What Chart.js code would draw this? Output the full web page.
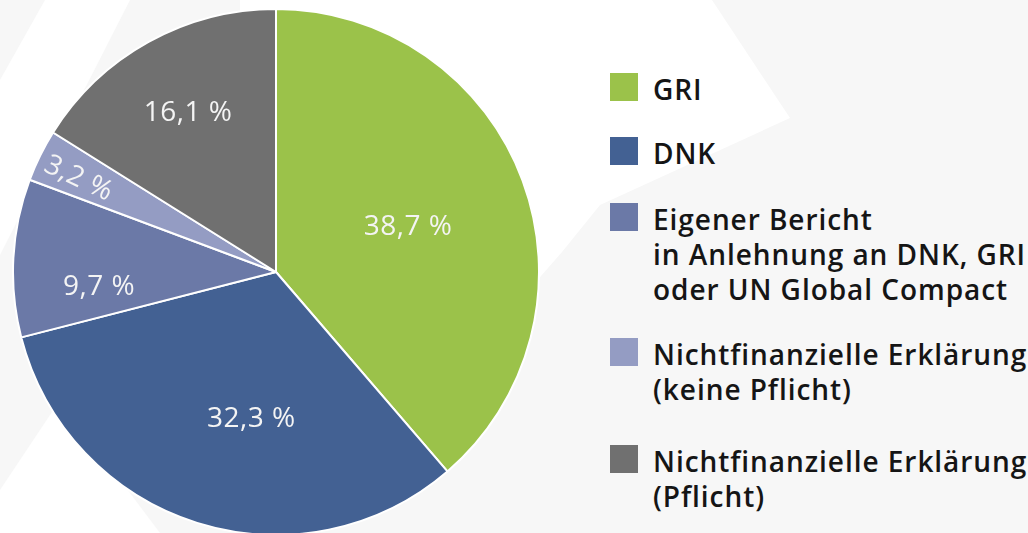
<!DOCTYPE html>
<html>
<head>
<meta charset="utf-8">
<script src="https://cdn.jsdelivr.net/npm/chart.js@4.4.0/dist/chart.umd.min.js"></script>
<style>
  html, body { margin: 0; padding: 0; width: 1028px; height: 533px; overflow: hidden; background: #f7f7f7; font-family: "Open Sans", sans-serif; }
  #bg { position: absolute; left: 0; top: 0; }
  #wrap { position: absolute; left: 12px; top: 8px; width: 528px; height: 528px; }
  #legend { position: absolute; left: 610px; top: 72px; margin: 0; padding: 0; list-style: none; }
  #legend li { display: flex; align-items: flex-start; margin-bottom: 30px; }
  #legend li:nth-child(1) { margin-bottom: 29px; }
  #legend li:nth-child(2) { margin-bottom: 31px; }
  #legend li:nth-child(3) { margin-bottom: 30px; }
  #legend li:nth-child(4) { margin-bottom: 37px; }
  #legend .sw { width: 28px; height: 28px; margin-top: 1px; flex: none; }
  #legend .tx { margin-left: 15px; font-size: 28px; font-weight: 600; letter-spacing: 0.95px; line-height: 35px; color: #151515; white-space: pre-line; }
</style>
</head>
<body>
<svg id="bg" width="1028" height="533">
  <polygon fill="#ffffff" points="240,0 712,0 790,118 600,205 562,252 520,300 240,300"/>
  <polygon fill="#ffffff" points="0,80 45,0 130,0 0,255"/>
  <polygon fill="#ffffff" points="0,490 60,400 160,533 0,533"/>
</svg>
<div id="wrap"><canvas id="c"></canvas></div>
<ul id="legend"></ul>
<script>
const categories = [
  'GRI',
  'DNK',
  'Eigener Bericht\nin Anlehnung an DNK, GRI\noder UN Global Compact',
  'Nichtfinanzielle Erklärung\n(keine Pflicht)',
  'Nichtfinanzielle Erklärung\n(Pflicht)'
];
const shares = [38.7, 32.3, 9.7, 3.2, 16.1];
const colors = ['#9bc24a', '#436193', '#6b79a7', '#949cc3', '#707070'];

// label placement (style): radius fraction, angle shift (deg), rotate along radius
const labelPlacement = [
  { r: 0.53, da: 1.6, rot: false },
  { r: 0.565, da: -7.9, rot: false },
  { r: 0.675, da: -8, rot: false },
  { r: 0.83, da: -1, rot: true },
  { r: 0.69, da: 0, rot: false }
];

const fmt = v => v.toLocaleString('de-DE', { minimumFractionDigits: 1, maximumFractionDigits: 1 }) + ' %';

const sliceLabels = {
  id: 'sliceLabels',
  afterDatasetsDraw(chart) {
    const ctx = chart.ctx;
    const meta = chart.getDatasetMeta(0);
    meta.data.forEach((arc, i) => {
      const p = arc.getProps(['x', 'y', 'startAngle', 'endAngle', 'outerRadius'], true);
      const pl = labelPlacement[i];
      const mid = (p.startAngle + p.endAngle) / 2 + pl.da * Math.PI / 180;
      const r = p.outerRadius * pl.r;
      const x = p.x + Math.cos(mid) * r;
      const y = p.y + Math.sin(mid) * r;
      ctx.save();
      ctx.translate(x, y);
      if (pl.rot) ctx.rotate(mid + Math.PI);
      ctx.fillStyle = '#f4f4f4';
      ctx.font = '28px "Open Sans"';
      if ('letterSpacing' in ctx) ctx.letterSpacing = '0.5px';
      ctx.textAlign = 'center';
      ctx.textBaseline = 'middle';
      ctx.fillText(fmt(chart.data.datasets[0].data[i]), 0, 0);
      ctx.restore();
    });
  }
};

const chart = new Chart(document.getElementById('c'), {
  type: 'pie',
  data: {
    labels: categories,
    datasets: [{
      data: shares,
      backgroundColor: colors,
      borderColor: '#ffffff',
      borderWidth: 2
    }]
  },
  options: {
    responsive: true,
    maintainAspectRatio: false,
    animation: false,
    layout: { padding: 0 },
    plugins: { legend: { display: false }, tooltip: { enabled: false } }
  },
  plugins: [sliceLabels]
});

const ul = document.getElementById('legend');
categories.forEach((c, i) => {
  const li = document.createElement('li');
  const sw = document.createElement('span');
  sw.className = 'sw';
  sw.style.background = colors[i];
  const tx = document.createElement('span');
  tx.className = 'tx';
  tx.textContent = c;
  li.appendChild(sw);
  li.appendChild(tx);
  ul.appendChild(li);
});
</script>
</body>
</html>
